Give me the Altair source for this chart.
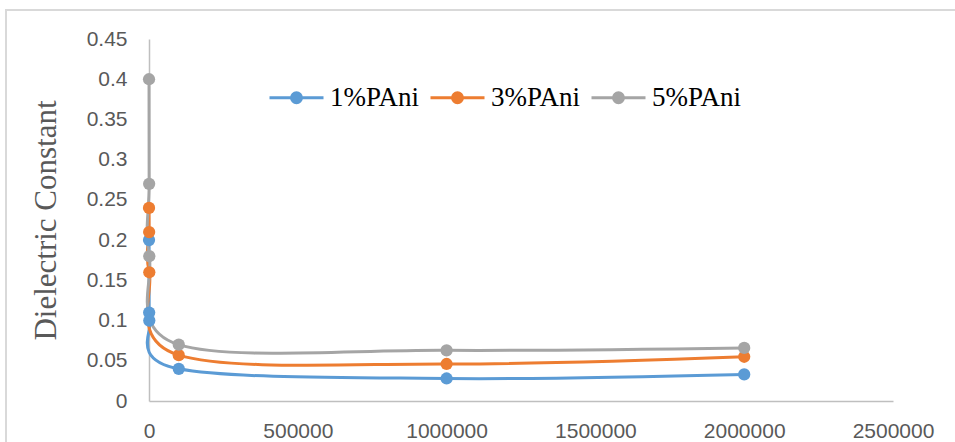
import altair as alt
import pandas as pd

# Frequency (Hz) and dielectric constant for each PAni loading
freq = [100, 500, 1000, 100000, 1000000, 2000000]
pani_1 = [0.20, 0.11, 0.10, 0.040, 0.028, 0.033]
pani_3 = [0.24, 0.21, 0.16, 0.057, 0.046, 0.055]
pani_5 = [0.40, 0.27, 0.18, 0.070, 0.063, 0.066]

series_names = ["1%PAni", "3%PAni", "5%PAni"]
series_colors = ["#5B9BD5", "#ED7D31", "#A5A5A5"]
x_ticks = [0, 500000, 1000000, 1500000, 2000000, 2500000]
y_ticks = [0, 0.05, 0.1, 0.15, 0.2, 0.25, 0.3, 0.35, 0.4, 0.45]

rows = []
for name, vals in zip(series_names, [pani_1, pani_3, pani_5]):
    for f, v in zip(freq, vals):
        rows.append({"freq": f, "value": v, "series": name})
df = pd.DataFrame(rows)

W, H = 744, 362
LEFT, TOP = 149, 39

x_enc = alt.X(
    "freq:Q",
    scale=alt.Scale(domain=[0, 2500000], nice=False, zero=True),
    axis=alt.Axis(
        values=x_ticks, format="d", title=None, grid=False, ticks=False,
        tickSize=0, labelPadding=19, labelFlush=False,
        domainColor="#BFBFBF", domainWidth=1.5,
        labelFont="Liberation Sans", labelFontSize=21, labelColor="#595959",
    ),
)
y_enc = alt.Y(
    "value:Q",
    scale=alt.Scale(domain=[0, 0.45], nice=False, zero=True),
    axis=alt.Axis(
        values=y_ticks, format=".2~f", grid=False, ticks=False, tickSize=0,
        labelPadding=22, labelFlush=False,
        domainColor="#BFBFBF", domainWidth=1.5,
        labelFont="Liberation Sans", labelFontSize=21, labelColor="#595959",
        title="Dielectric Constant", titleFont="Liberation Serif",
        titleFontSize=31, titleFontWeight="normal", titleColor="#595959",
        titleAngle=270, titleAlign="center", titleBaseline="alphabetic",
        titleX=-94, titleY=H / 2,
    ),
)

scale = alt.Scale(domain=series_names, range=series_colors)

# legend glyph: a horizontal stroke with a dot in the middle, drawn as
# concentric rings so the stroked dot reads as solid
legend_symbol = (
    "M-1,0L1,0"
    "M-0.185,0A0.185,0.185,0,1,1,0.185,0A0.185,0.185,0,1,1,-0.185,0"
    "M-0.111,0A0.111,0.111,0,1,1,0.111,0A0.111,0.111,0,1,1,-0.111,0"
    "M-0.044,0A0.044,0.044,0,1,1,0.044,0A0.044,0.044,0,1,1,-0.044,0"
)
legend = alt.Legend(
    title=None, orient="none", legendX=119, legendY=30,
    direction="horizontal", symbolType=legend_symbol, symbolSize=2916,
    symbolStrokeWidth=3, labelFont="Liberation Serif", labelFontSize=27,
    labelColor="#000000", labelOffset=5, columnPadding=4, padding=0,
)

lines = alt.Chart(df).mark_line(
    interpolate="cardinal", tension=0, strokeWidth=3
).encode(
    x=x_enc, y=y_enc,
    color=alt.Color("series:N", scale=scale, legend=legend),
)

points = alt.Chart(df).mark_point(
    filled=True, size=150, opacity=1
).encode(
    x=x_enc, y=y_enc,
    fill=alt.Fill("series:N", scale=scale, legend=None),
)

# outer frame of the chart area
frame = alt.Chart(pd.DataFrame({"k": [0]})).mark_rect(
    fill="transparent", stroke="#D9D9D9", strokeWidth=2
).encode(
    x=alt.value(6 - LEFT), x2=alt.value(960 - LEFT),
    y=alt.value(10 - TOP), y2=alt.value(450 - TOP),
)

chart = alt.layer(frame, lines, points).properties(
    width=W, height=H,
    autosize=alt.AutoSizeParams(type="none"),
    padding={"left": LEFT, "top": TOP, "right": 955 - LEFT - W, "bottom": 442 - TOP - H},
    background="white",
).configure_view(stroke=None)

chart.save("out.html", embed_options={"renderer": "svg", "actions": False})
